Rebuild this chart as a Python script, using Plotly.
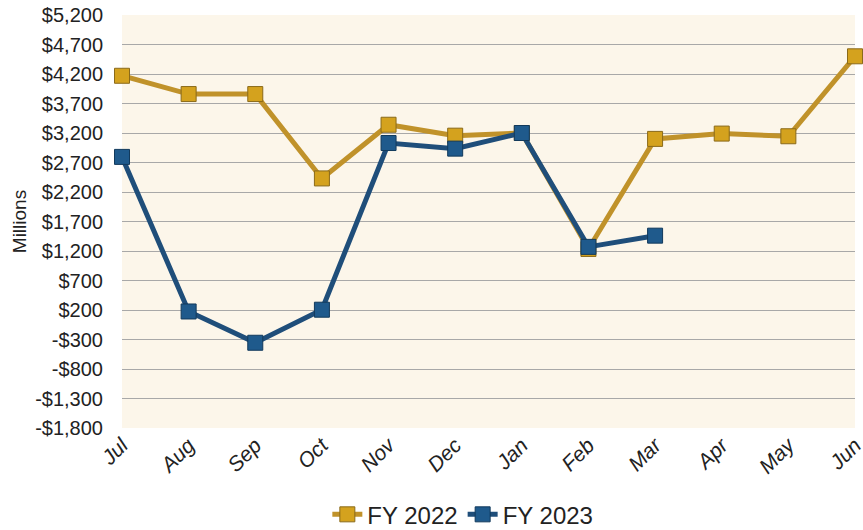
import plotly.graph_objects as go

months = ["Jul", "Aug", "Sep", "Oct", "Nov", "Dec", "Jan", "Feb", "Mar", "Apr", "May", "Jun"]
fy2022 = [4170, 3860, 3860, 2430, 3340, 3155, 3200, 1235, 3100, 3190, 3145, 4500]
fy2023 = [2795, 175, -355, 205, 3030, 2935, 3200, 1270, 1460]

y_ticks = list(range(-1800, 5201, 500))
y_text = [("-$" if v < 0 else "$") + f"{abs(v):,}" for v in y_ticks]

gold = "#C0922A"
blue = "#1F4E7A"

fig = go.Figure()
fig.add_trace(go.Scatter(
    x=months, y=fy2022, name="FY 2022", mode="lines+markers",
    line=dict(color=gold, width=5),
    marker=dict(symbol="square", size=15, color="#D4A21E", line=dict(color="#8A6A1A", width=1)),
    cliponaxis=False,
))
fig.add_trace(go.Scatter(
    x=months[:len(fy2023)], y=fy2023, name="FY 2023", mode="lines+markers",
    line=dict(color=blue, width=5),
    marker=dict(symbol="square", size=15, color="#1F5A8C", line=dict(color="#123A5C", width=1)),
    cliponaxis=False,
))

fig.update_layout(
    width=863, height=530,
    margin=dict(l=122, r=8, t=15, b=102, autoexpand=False),
    paper_bgcolor="white",
    plot_bgcolor="#FCF6EA",
    font=dict(family="Liberation Sans, Arial, sans-serif", color="#222222"),
    showlegend=True,
    legend=dict(orientation="h", x=0.465, xanchor="center", y=-0.21, yanchor="middle",
                font=dict(size=24), itemwidth=30, tracegroupgap=0),
    xaxis=dict(
        categoryorder="array", categoryarray=months, range=[0, 11], automargin=False,
        tickangle=-45, tickfont=dict(size=21, style="italic"),
        showgrid=False, showline=False, ticks="", zeroline=False,
        ticklabeloverflow="allow",
    ),
    yaxis=dict(
        range=[-1800, 5200], tickvals=y_ticks, ticktext=y_text, automargin=False,
        tickfont=dict(size=20), showgrid=True, gridcolor="#A8A8A8", gridwidth=1,
        zeroline=False, ticks="", ticklabelstandoff=18, ticklabeloverflow="allow",
        title=dict(text="Millions", font=dict(size=19), standoff=3),
    ),
)

# drop the default 8px body margin so the figure fills the window
fig.write_html("out.html", config={"displayModeBar": False},
               post_script="document.body.style.margin='0';document.body.style.overflow='hidden';")
